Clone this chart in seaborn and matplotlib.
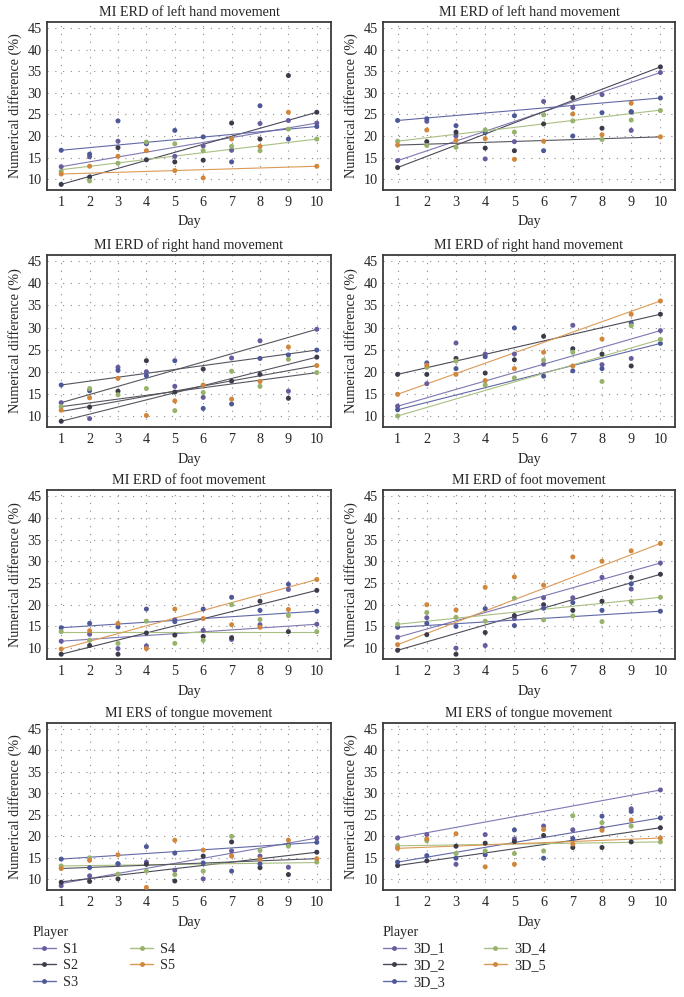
import numpy as np
import pandas as pd
import seaborn as sns
import matplotlib.pyplot as plt
from matplotlib.lines import Line2D

days = list(range(1, 11))
players_2d = ["S1", "S2", "S3", "S4", "S5"]
players_3d = ["3D_1", "3D_2", "3D_3", "3D_4", "3D_5"]

# one row per player, values for day 1..10
left_hand_2d = [
    [12.9, 15.2, 18.8, 18.2, 15.3, 17.7, 16.7, 22.9, 23.6, 23.0],
    [8.8, 10.5, 17.3, 14.5, 14.0, 14.4, 23.0, 19.3, 34.0, 25.5],
    [16.7, 15.8, 23.5, 18.4, 21.3, 19.8, 14.0, 27.0, 19.3, 22.2],
    [11.8, 9.6, 13.7, 18.6, 18.2, 16.6, 17.6, 16.6, 21.6, 19.3],
    [11.2, 13.0, 15.3, 16.6, 12.0, 10.3, 19.3, 17.6, 25.5, 13.0],
]
left_hand_3d = [
    [14.3, 23.4, 20.0, 14.7, 18.7, 28.0, 26.6, 29.6, 21.3, 34.7],
    [12.7, 18.7, 20.9, 17.2, 16.6, 22.8, 28.9, 21.8, 25.6, 36.0],
    [23.6, 24.0, 22.4, 20.8, 24.7, 16.6, 20.0, 25.4, 25.6, 28.8],
    [18.8, 17.8, 17.4, 21.4, 20.9, 24.9, 23.5, 19.2, 23.7, 25.9],
    [17.9, 21.4, 19.0, 19.4, 14.6, 18.8, 25.1, 20.3, 27.6, 19.8],
]
right_hand_2d = [
    [13.0, 9.4, 21.0, 20.0, 16.7, 14.2, 23.1, 27.0, 15.6, 29.6],
    [8.8, 12.0, 15.6, 22.5, 15.4, 20.6, 17.9, 19.4, 14.0, 23.3],
    [17.0, 15.7, 20.3, 19.1, 22.5, 11.7, 12.7, 23.0, 23.8, 24.9],
    [12.1, 16.2, 14.8, 16.2, 11.2, 15.3, 20.1, 16.7, 22.8, 19.8],
    [11.3, 14.1, 18.5, 10.1, 13.4, 17.0, 13.8, 17.8, 25.6, 21.4],
]
right_hand_3d = [
    [12.2, 17.3, 26.5, 24.0, 24.0, 21.7, 30.5, 21.6, 23.0, 29.3],
    [19.4, 19.4, 23.0, 19.7, 22.7, 28.0, 25.2, 24.0, 21.3, 33.0],
    [11.4, 22.0, 20.7, 23.4, 29.9, 19.0, 20.2, 20.7, 31.0, 26.4],
    [10.0, 21.0, 22.4, 17.0, 18.6, 22.6, 24.4, 17.8, 30.4, 27.3],
    [14.9, 21.5, 19.4, 18.0, 20.7, 24.4, 21.3, 27.4, 33.0, 36.0],
]
foot_2d = [
    [11.6, 13.2, 9.9, 10.5, 16.5, 14.1, 12.0, 15.4, 23.5, 15.5],
    [8.6, 10.6, 8.6, 13.5, 13.0, 12.7, 12.4, 20.8, 13.8, 23.3],
    [14.7, 15.7, 14.9, 19.0, 16.1, 19.0, 21.7, 18.7, 24.7, 18.5],
    [13.8, 11.8, 11.1, 16.2, 11.1, 11.8, 20.0, 16.6, 17.5, 13.8],
    [9.8, 14.0, 15.7, 9.9, 19.0, 16.8, 15.4, 14.8, 18.9, 25.8],
]
foot_3d = [
    [12.5, 17.0, 10.0, 10.6, 16.8, 21.6, 21.6, 26.3, 23.6, 29.6],
    [9.5, 13.1, 8.6, 13.6, 17.5, 20.0, 18.7, 20.8, 26.3, 27.0],
    [14.8, 15.7, 15.0, 19.1, 15.2, 19.2, 20.5, 18.7, 24.8, 18.5],
    [15.5, 18.2, 17.1, 16.2, 21.5, 16.5, 17.4, 16.1, 20.7, 21.7],
    [10.8, 20.0, 18.8, 24.0, 26.4, 24.5, 31.0, 30.0, 32.4, 34.1],
]
tongue_2d = [
    [8.5, 10.8, 13.6, 14.0, 12.1, 10.1, 16.6, 15.4, 12.8, 19.6],
    [9.3, 9.5, 10.1, 13.5, 9.6, 15.4, 18.7, 12.7, 11.1, 16.3],
    [14.7, 12.7, 13.6, 17.6, 16.1, 13.8, 11.9, 13.6, 18.0, 18.6],
    [13.1, 15.0, 11.2, 11.9, 11.1, 11.9, 20.0, 16.7, 17.7, 14.0],
    [12.5, 14.4, 15.7, 8.1, 19.1, 16.8, 15.4, 14.7, 19.1, 14.8],
]
tongue_3d = [
    [19.6, 20.4, 13.5, 20.4, 19.4, 22.4, 21.5, 21.9, 26.4, 30.8],
    [13.2, 14.3, 17.7, 18.4, 18.8, 20.2, 17.4, 17.4, 18.7, 22.0],
    [14.0, 15.5, 14.9, 15.7, 21.5, 14.9, 19.5, 24.7, 25.8, 24.3],
    [17.8, 19.0, 16.0, 16.6, 16.0, 16.6, 24.8, 23.2, 22.4, 18.7],
    [17.2, 19.4, 20.6, 12.9, 13.5, 21.6, 18.2, 21.4, 23.8, 19.6],
]

# fitted trend lines: (day 1, day 10)
left_hand_2d_trend = [(12.9, 23.0), (8.8, 25.5), (16.7, 22.2), (12.2, 19.3), (11.2, 13.0)]
left_hand_3d_trend = [(14.3, 34.7), (12.7, 36.0), (23.6, 28.8), (18.8, 26.0), (17.9, 19.8)]
right_hand_2d_trend = [(13.0, 29.6), (8.8, 23.3), (17.0, 24.9), (12.1, 19.8), (11.0, 21.4)]
right_hand_3d_trend = [(12.2, 29.3), (19.4, 33.0), (11.4, 26.4), (10.0, 27.3), (14.9, 36.0)]
foot_2d_trend = [(11.6, 15.5), (8.6, 23.3), (14.7, 18.5), (13.8, 13.8), (9.8, 25.8)]
foot_3d_trend = [(12.5, 29.6), (9.5, 27.0), (14.8, 18.5), (15.5, 21.7), (10.8, 34.1)]
tongue_2d_trend = [(9.0, 19.6), (9.4, 16.3), (14.7, 18.6), (13.1, 13.9), (12.5, 14.8)]
tongue_3d_trend = [(19.6, 30.8), (13.2, 22.0), (14.0, 24.3), (17.8, 18.7), (17.2, 19.6)]

point_colors = ["#675c9e", "#3b3b49", "#4d5898", "#97b26a", "#d0873b"]
line_colors = ["#7d78b2", "#4a4a58", "#6069a6", "#a9bf80", "#dc9a55"]
gray_line = "#55555f"

sns.set_style("white")
plt.rcParams['font.family'] = ['Liberation Serif', 'DejaVu Serif']
FS = 10.2


def draw_panel(ax, title, values, trends, players, gray=()):
    df = pd.DataFrame({
        "Day": np.tile(days, len(players)),
        "Value": np.concatenate(values),
        "Player": np.repeat(players, len(days)),
    })
    tr = pd.DataFrame({
        "Day": np.tile([1, 10], len(players)),
        "Value": np.ravel(trends),
        "Player": np.repeat(players, 2),
    })
    lpal = {p: (gray_line if i in gray else line_colors[i]) for i, p in enumerate(players)}
    sns.lineplot(data=tr, x="Day", y="Value", hue="Player", palette=lpal,
                 lw=0.8, legend=False, ax=ax)
    sns.scatterplot(data=df, x="Day", y="Value", hue="Player",
                    palette=dict(zip(players, point_colors)), s=13, linewidth=0,
                    legend=False, ax=ax, zorder=3)
    ax.set_xlim(0.5, 10.5)
    ax.set_ylim(7.5, 46.4)
    ax.set_xticks(days)
    ax.set_yticks(range(10, 50, 5))
    ax.grid(True, ls=(0, (1, 6)), color="#8c8c8c", lw=0.8)
    ax.tick_params(length=0, labelsize=FS, pad=4)
    for s in ax.spines.values():
        s.set_color("#3a3a3a")
        s.set_linewidth(1.3)
    ax.set_title(title, fontsize=FS, pad=4)
    ax.set_xlabel("Day", fontsize=FS, labelpad=5)
    ax.set_ylabel("Numerical difference (%)", fontsize=FS, labelpad=4)


W, H = 684, 997
fig = plt.figure(figsize=(W / 100, H / 100), dpi=100)

cols = [(47, 331), (383, 675)]
rows = [(22, 190), (255, 427), (490, 659), (723, 890)]
panels = [
    ("MI ERD of left hand movement", left_hand_2d, left_hand_2d_trend, left_hand_3d, left_hand_3d_trend, (), (4,)),
    ("MI ERD of right hand movement", right_hand_2d, right_hand_2d_trend, right_hand_3d, right_hand_3d_trend, (0, 1, 2, 3, 4), ()),
    ("MI ERD of foot movement", foot_2d, foot_2d_trend, foot_3d, foot_3d_trend, (), ()),
    ("MI ERS of tongue movement", tongue_2d, tongue_2d_trend, tongue_3d, tongue_3d_trend, (4,), ()),
]

for (y0, y1), (title, v2, t2, v3, t3, g2, g3) in zip(rows, panels):
    for (x0, x1), vals, trs, pl, g in [(cols[0], v2, t2, players_2d, g2), (cols[1], v3, t3, players_3d, g3)]:
        ax = fig.add_axes([x0 / W, 1 - y1 / H, (x1 - x0) / W, (y1 - y0) / H])
        draw_panel(ax, title, vals, trs, pl, g)


def legend_handles(players):
    return [Line2D([0], [0], color=line_colors[i], lw=1.0, marker="o", markersize=3.5,
                   markerfacecolor=point_colors[i], markeredgewidth=0)
            for i in range(len(players))]


for x, players, cs in [(33, players_2d, 3.7), (383, players_3d, 2.8)]:
    fig.legend(legend_handles(players), players, title="Player", loc="upper left",
               bbox_to_anchor=(x / W, 1 - 926 / H), ncol=2, frameon=False,
               fontsize=FS, title_fontsize=FS, alignment="left",
               handlelength=1.6, handletextpad=0.5, labelspacing=0.25,
               columnspacing=cs, borderaxespad=0, borderpad=0)

fig.savefig("out.png", dpi=100)
